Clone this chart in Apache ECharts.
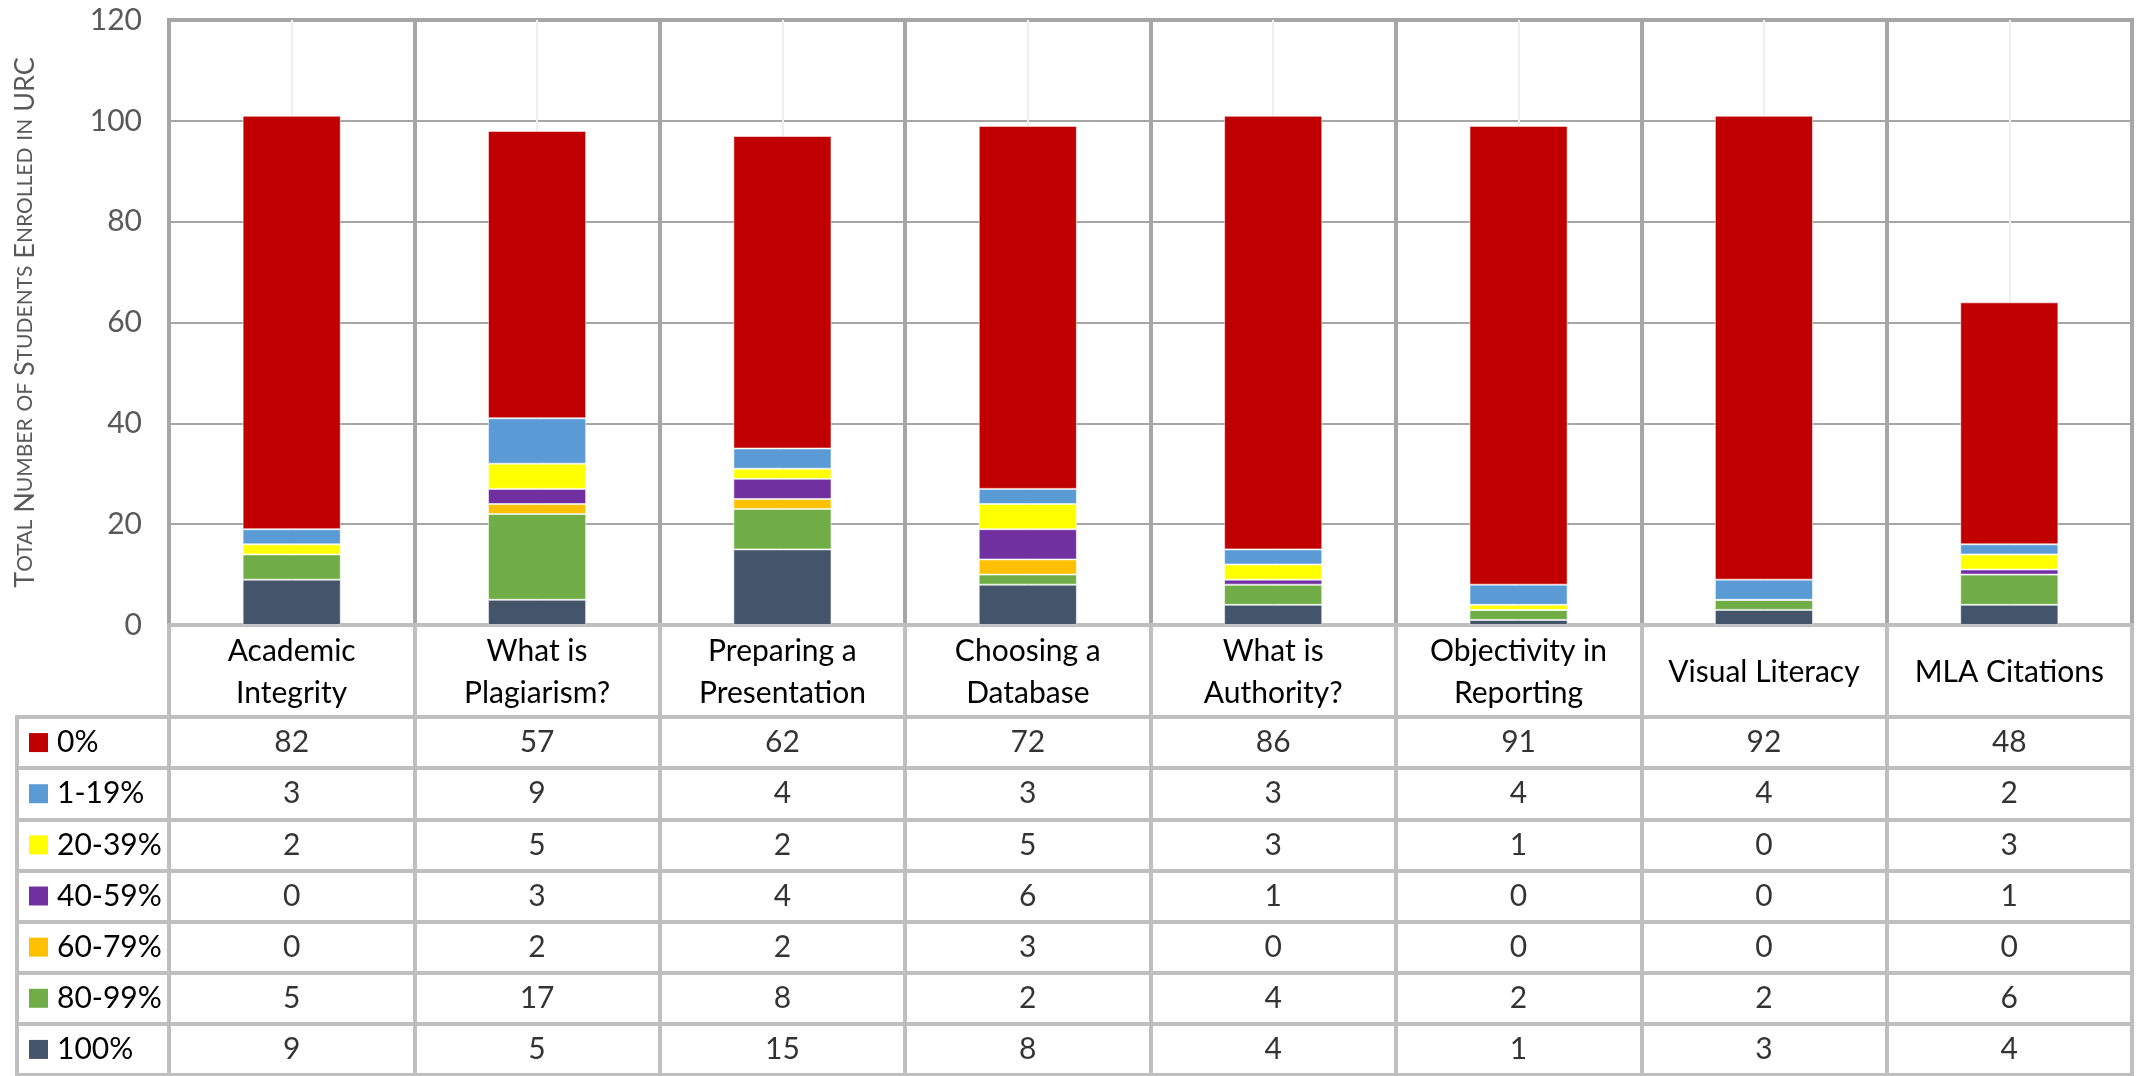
<!DOCTYPE html>
<html>
<head>
<meta charset="utf-8">
<script src="https://cdn.jsdelivr.net/npm/echarts@6/dist/echarts.min.js"></script>
<style>
  html, body { margin: 0; padding: 0; background: #fff; }
  #chart { width: 2139px; height: 1076px; }
</style>
</head>
<body>
<div id="chart"></div>
<script>
// ---- data ----
const categories = ['Academic\nIntegrity', 'What is\nPlagiarism?', 'Preparing a\nPresentation', 'Choosing a\nDatabase', 'What is\nAuthority?', 'Objectivity in\nReporting', 'Visual Literacy', 'MLA Citations'];
const seriesNames = ['0%', '1-19%', '20-39%', '40-59%', '60-79%', '80-99%', '100%'];
const v0 = [82, 57, 62, 72, 86, 91, 92, 48];
const v1_19 = [3, 9, 4, 3, 3, 4, 4, 2];
const v20_39 = [2, 5, 2, 5, 3, 1, 0, 3];
const v40_59 = [0, 3, 4, 6, 1, 0, 0, 1];
const v60_79 = [0, 2, 2, 3, 0, 0, 0, 0];
const v80_99 = [5, 17, 8, 2, 4, 2, 2, 6];
const v100 = [9, 5, 15, 8, 4, 1, 3, 4];
const yTicks = [0, 20, 40, 60, 80, 100, 120];

// ---- styles ----
const colors = ['#C00000', '#5B9BD5', '#FFFF00', '#7030A0', '#FFC000', '#70AD47', '#44546A'];
const values = [v0, v1_19, v20_39, v40_59, v60_79, v80_99, v100];
const FONT = 'Lato';
const FS = 30;

const chart = echarts.init(document.getElementById('chart'), null, { renderer: 'canvas' });

// stacked bars: bottom first (100%) to top (0%)
const barSeries = [];
for (let k = seriesNames.length - 1; k >= 0; k--) {
  barSeries.push({
    name: seriesNames[k],
    type: 'bar',
    stack: 'total',
    xAxisIndex: 0,
    yAxisIndex: 0,
    barWidth: '40%',
    data: values[k],
    itemStyle: { color: colors[k], borderColor: 'rgba(255,255,255,0.55)', borderWidth: 1 },
    z: 3
  });
}

// table cells
const cellData = [];
for (let r = 0; r < seriesNames.length; r++) {
  for (let c = 0; c < categories.length; c++) {
    cellData.push([c, r, values[r][c]]);
  }
}

const rich = { t: { fontFamily: FONT, fontSize: FS, color: '#000', padding: [0, 0, 0, 9] } };
colors.forEach((col, i) => { rich['s' + i] = { width: 19, height: 19, backgroundColor: col }; });

const titleRich = {
  b: { fontFamily: FONT, fontSize: 27, color: '#595959' },
  s: { fontFamily: FONT, fontSize: 21, color: '#595959' }
};

const option = {
  backgroundColor: '#fff',
  animation: false,
  textStyle: { fontFamily: FONT },
  grid: [
    { left: 169, top: 20, width: 1963, height: 605, show: true, borderColor: '#a6a6a6', borderWidth: 4, containLabel: false },
    { left: 17, top: 717, width: 2115, height: 358, show: true, borderColor: '#bfbfbf', borderWidth: 4, containLabel: false },
    { left: 169, top: 625, width: 1963, height: 450, show: false, containLabel: false },
    { left: 169, top: 717, width: 1963, height: 358, show: false, containLabel: false }
  ],
  xAxis: [
    {
      type: 'category', gridIndex: 0, data: categories, boundaryGap: true,
      axisTick: { show: false },
      axisLine: { show: true, lineStyle: { color: '#bfbfbf', width: 4 } },
      splitLine: { show: true, lineStyle: { color: '#a6a6a6', width: 4 } },
      axisLabel: {
        interval: 0, margin: 47, verticalAlign: 'middle', lineHeight: 42,
        fontFamily: FONT, fontSize: FS, color: '#000'
      },
      z: 1
    },
    {
      type: 'category', gridIndex: 0, data: categories, boundaryGap: true, position: 'bottom',
      axisTick: { show: false }, axisLine: { show: false }, axisLabel: { show: false },
      splitLine: { show: true, alignWithLabel: true, lineStyle: { color: '#efefef', width: 2 } },
      z: 0
    },
    { type: 'value', gridIndex: 1, show: false },
    {
      type: 'category', gridIndex: 2, data: categories, boundaryGap: true,
      axisTick: { show: false }, axisLine: { show: false }, axisLabel: { show: false },
      splitLine: { show: true, lineStyle: { color: '#bfbfbf', width: 4 } }
    },
    { type: 'category', gridIndex: 3, data: categories, boundaryGap: true, show: false }
  ],
  yAxis: [
    {
      type: 'value', gridIndex: 0, min: yTicks[0], max: yTicks[yTicks.length - 1], interval: 20,
      axisLine: { show: false }, axisTick: { show: false },
      axisLabel: { margin: 27, fontFamily: FONT, fontSize: FS, color: '#595959' },
      splitLine: { show: true, lineStyle: { color: '#a6a6a6', width: 2 } },
      name: '{b|T}{s|OTAL} {b|N}{s|UMBER} {s|OF} {b|S}{s|TUDENTS} {b|E}{s|NROLLED} {s|IN} {b|URC}',
      nameLocation: 'middle', nameRotate: 90, nameGap: 130,
      nameTextStyle: { rich: titleRich, fontFamily: FONT, fontSize: 27, color: '#595959' }
    },
    {
      type: 'category', gridIndex: 1, data: seriesNames, inverse: true, boundaryGap: true,
      axisLine: { show: false }, axisTick: { show: false },
      splitLine: { show: true, lineStyle: { color: '#bfbfbf', width: 4 } },
      axisLabel: {
        inside: true, margin: 12, align: 'left', verticalAlign: 'middle',
        formatter: (val, idx) => '{s' + idx + '|}{t|' + val + '}',
        rich: rich
      }
    },
    { type: 'value', gridIndex: 2, show: false, min: 0, max: 1 },
    { type: 'category', gridIndex: 3, data: seriesNames, inverse: true, boundaryGap: true, show: false }
  ],
  series: barSeries.concat([
    {
      type: 'scatter', xAxisIndex: 4, yAxisIndex: 3, symbolSize: 0, data: cellData,
      encode: { x: 0, y: 1 },
      label: {
        show: true, position: 'inside', formatter: p => String(p.value[2]),
        fontFamily: FONT, fontSize: FS, color: '#000'
      },
      silent: true
    }
  ])
};

chart.setOption(option);
</script>
</body>
</html>
